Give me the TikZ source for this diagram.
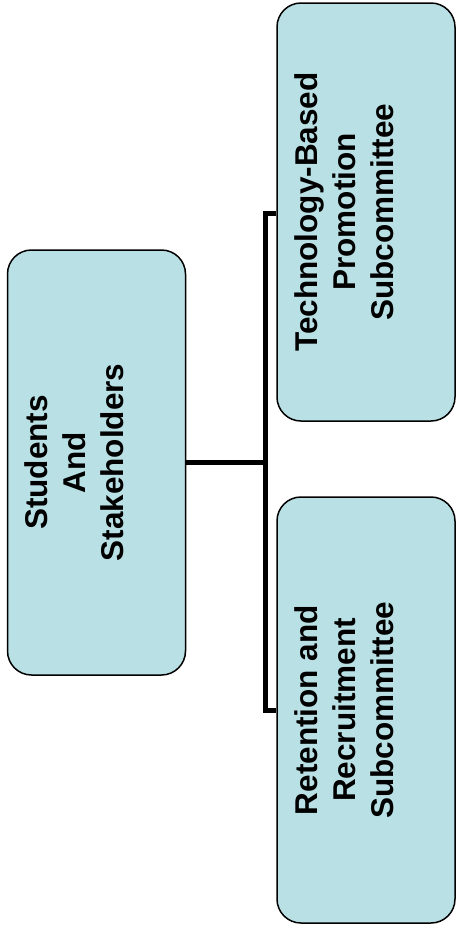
\documentclass[tikz,border=0pt]{standalone}
\usepackage{fontspec}
\setmainfont{Liberation Sans}
\definecolor{boxblue}{RGB}{185,224,228}

\tikzstyle{block} = [rectangle, draw, line width=1.5pt, fill=boxblue,
    rounded corners=24pt, rotate=90, minimum height=178pt]
\tikzstyle{boxtext} = [rotate=90, align=center,
    font=\fontsize{31.5}{38}\selectfont\bfseries]
\tikzstyle{link} = [draw, line width=5pt]

\begin{document}
\begin{tikzpicture}[x=1pt, y=1pt]
    \useasboundingbox (0,0) rectangle (457,-930);
    % Place nodes
    \node [block, minimum width=425pt] (students) at (96.5,-462.5) {};
    \node [block, minimum width=418pt] (techpromo) at (366,-212) {};
    \node [block, minimum width=426pt] (retention) at (366,-710) {};

    % Box texts, set a bit off centre like the original
    \node [boxtext] (studentstext) at ([xshift=-22pt] students.center) {Students\\And\\Stakeholders};
    \node [boxtext] (techpromotext) at ([xshift=-22pt] techpromo.center) {Technology-Based\\Promotion\\Subcommittee};
    \node [boxtext] (retentiontext) at ([xshift=-22pt] retention.center) {Retention and\\Recruitment\\Subcommittee};

    % Connectors
    \coordinate (bus) at (265,-213);
    \path [link] (students.south) -- (students.south -| bus);
    \path [link] (techpromo.north |- bus) -- (bus) -- (bus |- retention.north) -- (retention.north);
\end{tikzpicture}
\end{document}
